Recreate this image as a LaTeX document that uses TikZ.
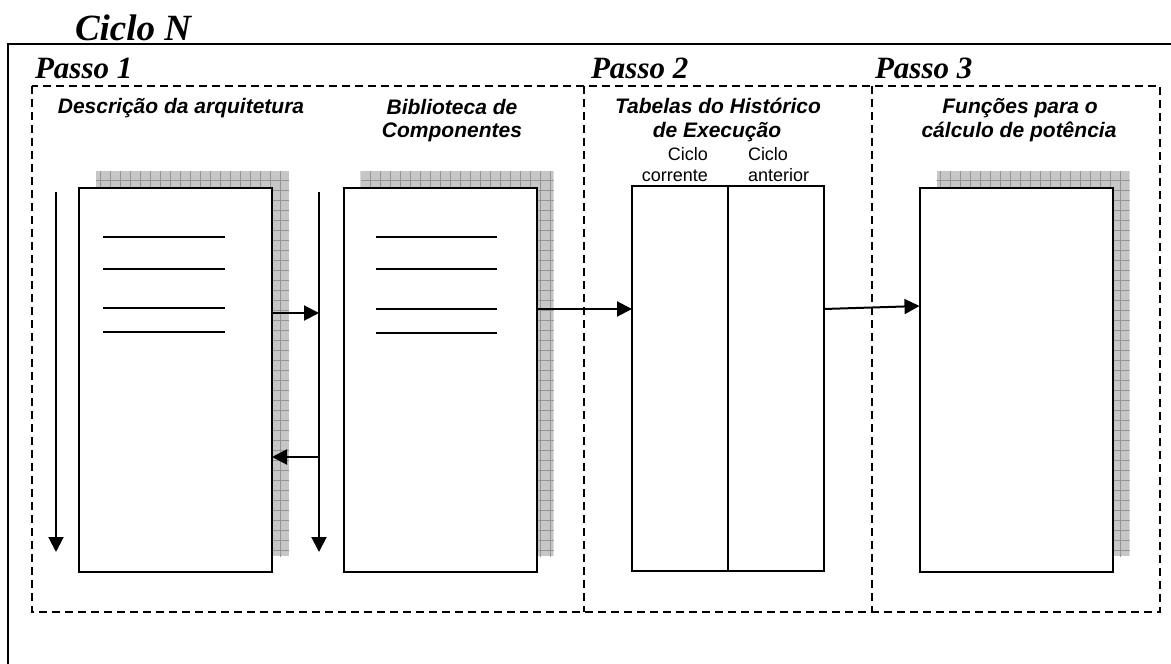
\documentclass[tikz,border=0pt]{standalone}
\usepackage{fontspec}
\setmainfont{Liberation Serif}
\setsansfont{Liberation Sans}
\usetikzlibrary{arrows.meta,calc,backgrounds}

\tikzset{
  every node/.style={inner sep=0pt, outer sep=0pt},
  heading/.style={font=\fontsize{31}{34}\selectfont\bfseries\itshape, anchor=base west},
  bigheading/.style={font=\fontsize{37}{40}\selectfont\bfseries\itshape, anchor=base west},
  title/.style={font=\sffamily\fontsize{21}{24}\selectfont\bfseries\itshape, anchor=base},
  colhead/.style={font=\sffamily\fontsize{18}{20}\selectfont},
  docbox/.style={draw, line width=2pt, fill=white, minimum width=193pt, minimum height=384pt},
  tabcol/.style={draw, line width=1.5pt, fill=white, minimum width=96pt, minimum height=385pt},
  stepframe/.style={dash pattern=on 8pt off 5pt, line width=1.5pt},
  flow/.style={line width=2pt, -{Triangle[length=15pt,width=15pt]}},
  rule/.style={line width=2pt},
  shade/.style={fill=black!22},
  shadegrid/.style={draw=black!42, line width=0.8pt},
}

\begin{document}
\begin{tikzpicture}[x=1pt, y=-1pt]
  \useasboundingbox (0,0) rectangle (1171,664);

  % outer cycle frame
  \draw[rule] (8,664) -- (8,44) -- (1171,44);
  \node[bigheading] (ciclo) at (75,40) {Ciclo N};

  % the three steps: one dashed frame split by two dashed dividers
  \draw[stepframe] (32,86) rectangle (1160,612);
  \draw[stepframe] (584,86) -- (584,612);
  \draw[stepframe] (872,86) -- (872,612);
  \node[heading] (p1) at (35,78) {Passo 1};
  \node[heading] (p2) at (591,78) {Passo 2};
  \node[heading] (p3) at (875,78) {Passo 3};

  % titles
  \node[title] (desc) at (181,113) {Descrição da arquitetura};
  \node[title] (lib1) at (452,114) {Biblioteca de};
  \node[title] (lib2) at (452,137) {Componentes};
  \node[title] (tab1) at (718,113) {Tabelas do Histórico};
  \node[title] (tab2) at (717,137) {de Execução};
  \node[title] (fun1) at (1020,113) {Funções para o};
  \node[title] (fun2) at (1019,137) {cálculo de potência};

  % document boxes
  \node[docbox] (b1) at (175.5,380) {};
  \node[docbox] (b2) at (440,380) {};
  \node[docbox] (b4) at (1016,380) {};

  % history table
  \node[tabcol] (c1) at (680,378.5) {};
  \node[tabcol] (c2) at (776,378.5) {};
  \node[colhead, anchor=base east] (h1a) at (708,160) {Ciclo};
  \node[colhead, anchor=base east] (h1b) at (708,181) {corrente};
  \node[colhead, anchor=base west] (h2a) at (748,160) {Ciclo};
  \node[colhead, anchor=base west] (h2b) at (748,181) {anterior};

  % textured shadows behind the documents
  \begin{scope}[on background layer]
    \foreach \b in {b1,b2,b4}{
      \begin{scope}
        \clip ($(\b.south west)+(17,-16)$) rectangle ($(\b.north east)+(17,-17)$);
        \fill[shade] ($(\b.south west)+(17,-16)$) rectangle ($(\b.north east)+(17,-17)$);
        \draw[shadegrid, step=10pt] ($(\b.south west)+(0,0)$) grid ($(\b.north east)+(40,-40)$);
      \end{scope}
    }
  \end{scope}

  % text lines inside the documents
  \foreach \y in {237,269,308,332}
    \draw[rule] (103,\y) -- (225,\y);
  \foreach \y in {237,269,309,333}
    \draw[rule] (376,\y) -- (497,\y);

  % reading flows in step 1
  \coordinate (l1top) at (56,192);
  \coordinate (l1bot) at (56,552);
  \coordinate (l2top) at (319,192);
  \coordinate (l2bot) at (319,552);
  \coordinate (l2in) at (319,313);
  \coordinate (l2out) at (319,457);
  \draw[flow] (l1top) -- (l1bot);
  \draw[flow] (l2top) -- (l2bot);
  \draw[flow] (b1.east |- l2in) -- (l2in);
  \draw[flow] (l2out) -- (b1.east |- l2out);

  % flows between steps
  \coordinate (s2in) at (632,309);
  \draw[flow] (b2.east |- s2in) -- (c1.west |- s2in);
  \coordinate (s3out) at (824,309);
  \coordinate (s3in) at (920,306);
  \draw[flow] (c2.east |- s3out) -- (b4.west |- s3in);
\end{tikzpicture}
\end{document}
